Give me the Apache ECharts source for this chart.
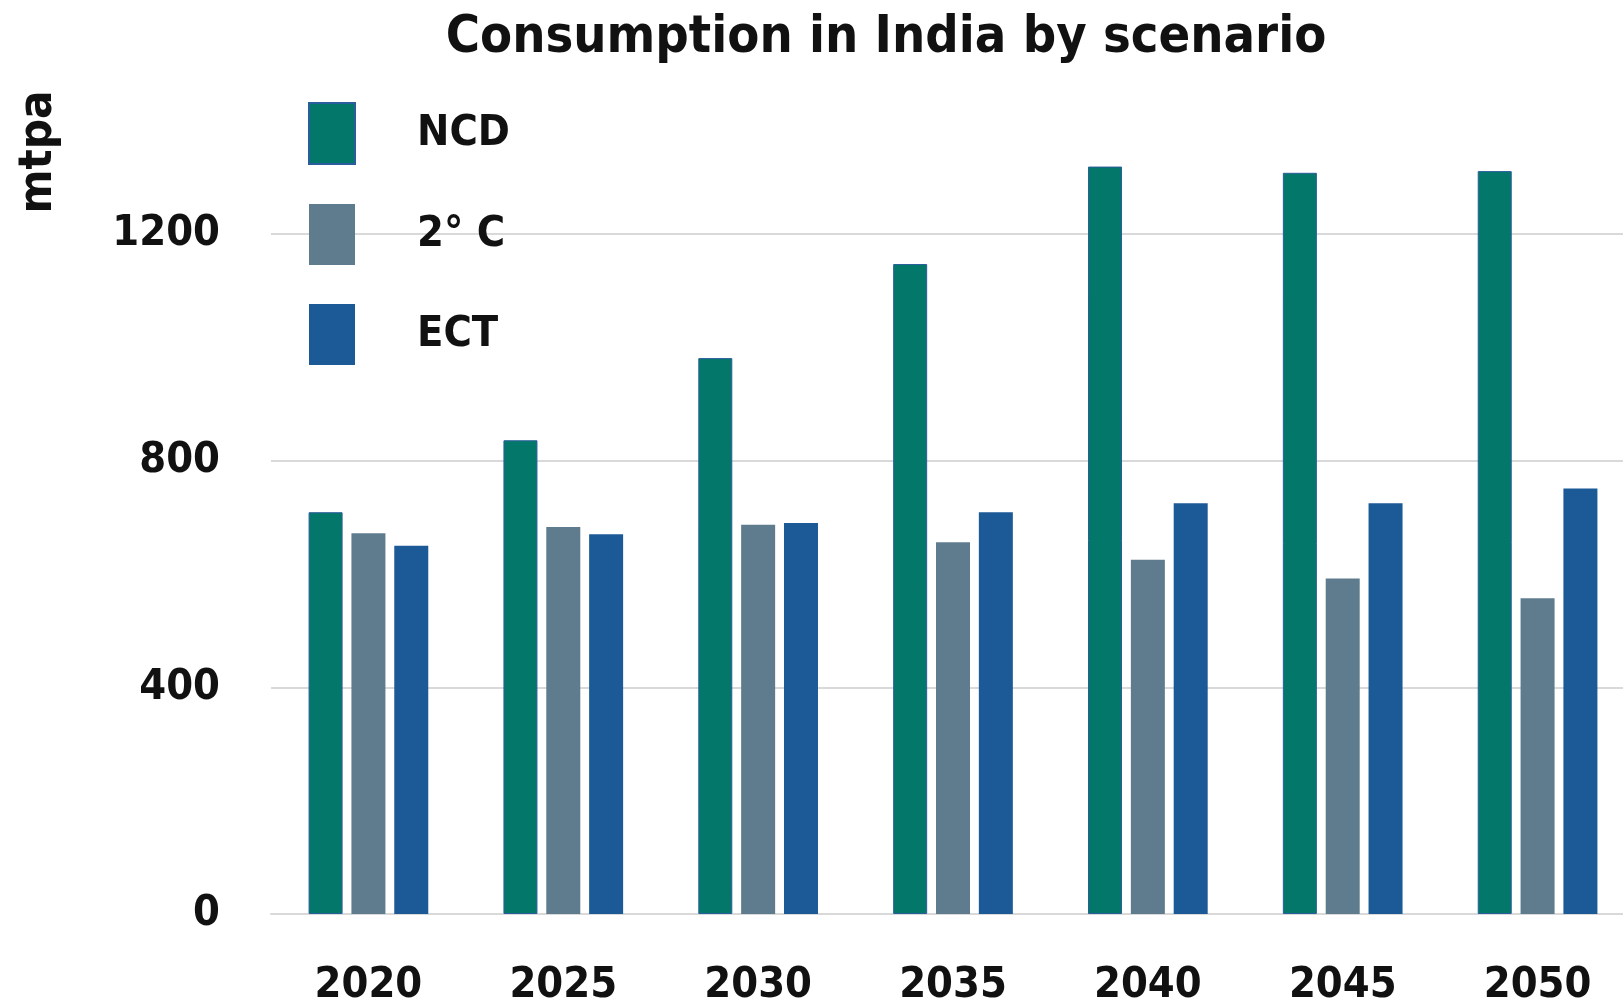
<!DOCTYPE html>
<html>
<head>
<meta charset="utf-8">
<title>Consumption in India by scenario</title>
<script src="https://cdn.jsdelivr.net/npm/echarts@6/dist/echarts.min.js"></script>
<style>
  html, body { margin: 0; padding: 0; background: #fff; }
  #chart { width: 1623px; height: 1006px; }
</style>
</head>
<body>
<div id="chart"></div>
<script>
// data
const years = ['2020', '2025', '2030', '2035', '2040', '2045', '2050']
const ncd = [709, 836, 981, 1147, 1319, 1308, 1311]
const twoDeg = [672, 683, 687, 656, 625, 592, 557]
const ect = [650, 670, 690, 709, 725, 725, 751]
const yTicks = [0, 400, 800, 1200]

const FONT = "'DejaVu Sans Condensed', 'Liberation Sans Narrow', sans-serif"

const chart = echarts.init(document.getElementById('chart'))
const option = {
  backgroundColor: '#fff',
  animation: false,
  title: {
    text: 'Consumption in India by scenario',
    left: 881,
    textAlign: 'center',
    top: 7,
    textStyle: { fontFamily: FONT, fontWeight: 'bold', fontSize: 52, color: '#111' }
  },
  legend: {
    orient: 'vertical',
    left: 303,
    top: 97,
    itemWidth: 46,
    itemHeight: 61,
    itemGap: 39,
    icon: 'rect',
    data: ['NCD', '2° C', 'ECT'],
    textStyle: {
      fontFamily: FONT, fontWeight: 'bold', fontSize: 43, color: '#111',
      padding: [0, 0, 0, 57]
    }
  },
  graphic: [{
    type: 'text',
    x: 39,
    y: 152,
    rotation: Math.PI / 2,
    style: {
      text: 'mtpa',
      fontFamily: FONT, fontWeight: 'bold', fontSize: 47, fill: '#111',
      textAlign: 'center', textVerticalAlign: 'middle'
    }
  }],
  grid: {
    left: 271, top: 234, width: 1364, height: 680,
    containLabel: false, outerBoundsMode: 'none'
  },
  xAxis: {
    type: 'category',
    data: years,
    axisLine: { show: true, lineStyle: { color: '#D9D9D9', width: 2 } },
    axisTick: { show: false },
    axisLabel: {
      margin: 50,
      fontFamily: FONT, fontWeight: 'bold', fontSize: 43, color: '#111'
    }
  },
  yAxis: {
    type: 'value',
    min: yTicks[0],
    max: yTicks[yTicks.length - 1],
    interval: 400,
    axisLine: { show: false },
    axisTick: { show: false },
    axisLabel: {
      margin: 51,
      formatter: v => String(v),
      fontFamily: FONT, fontWeight: 'bold', fontSize: 43, color: '#111'
    },
    splitLine: { lineStyle: { color: '#D9D9D9', width: 2 } }
  },
  series: [
    {
      name: 'NCD', type: 'bar', data: ncd, clip: false,
      barWidth: 34, barGap: '26%',
      itemStyle: { color: '#03786A', borderColor: '#2A5D9B', borderWidth: 1 }
    },
    {
      name: '2° C', type: 'bar', data: twoDeg, clip: false,
      barWidth: 34, barGap: '26%',
      itemStyle: { color: '#5F7C8F' }
    },
    {
      name: 'ECT', type: 'bar', data: ect, clip: false,
      barWidth: 34, barGap: '26%',
      itemStyle: { color: '#1C5997' }
    }
  ]
}
chart.setOption(option)
</script>
</body>
</html>
